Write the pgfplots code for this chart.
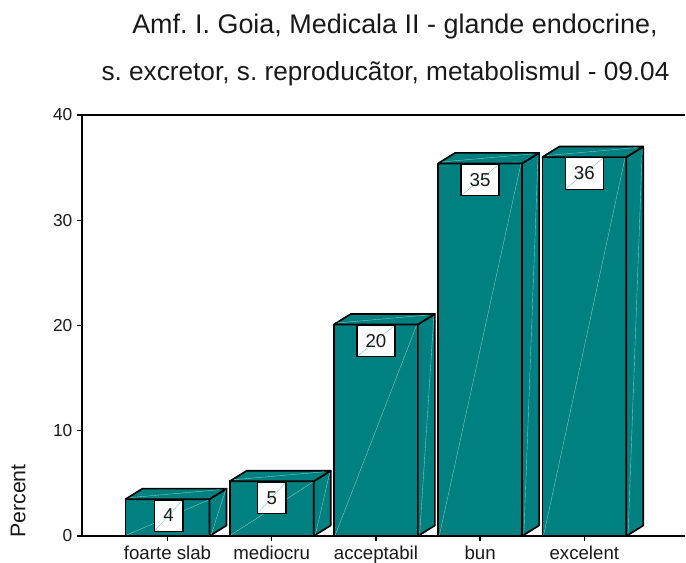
\documentclass[border=0pt]{standalone}
\usepackage{fontspec}
\setmainfont{Liberation Sans}
\usepackage{pgfplots}
\pgfplotsset{compat=1.18}
\usepackage{pgfplotstable}
\definecolor{barteal}{HTML}{008080}
\definecolor{lightl}{HTML}{7FC8C4}
\frenchspacing
\pgfplotstableread{
x v
0 3.5
1 5.2
2 20.1
3 35.4
4 36.0
}\valtable
\begin{document}
\begin{tikzpicture}
\path[use as bounding box] (0,0) rectangle (514.5pt,421.5pt);
\node[font=\fontsize{20.2pt}{23pt}\selectfont,text=black!90] at (296.25pt,401.25pt) {Amf. I. Goia, Medicala II - glande endocrine,};
\node[font=\fontsize{19.65pt}{23pt}\selectfont,text=black!90] at (289.1pt,366pt) {s. excretor, s. reproducãtor, metabolismul - 09.04};
\begin{axis}[
  at={(61.5pt,19.5pt)}, anchor=south west,
  scale only axis, width=452.25pt, height=315.75pt,
  xmin=-0.8205, xmax=4.966, ymin=0, ymax=40,
  axis x line=box, axis y line*=left,
  axis line style={line width=1.25pt,-},
  tick align=outside, major tick length=3.75pt,
  every tick/.style={black,line width=1pt},
  xtick={0,1,2,3,4},
  xticklabels={foarte slab,mediocru,acceptabil,bun,excelent},
  ytick={0,10,20,30,40},
  xtick pos=bottom, ytick pos=left,
  /pgf/number format/assume math mode=true,
  tick label style={font=\fontsize{13pt}{15pt}\selectfont,text=black!90},
  xticklabel style={font=\fontsize{14pt}{15pt}\selectfont,yshift=0pt},
  ylabel={Percent},
  every axis y label/.style={at={(axis description cs:-0.106,-0.005)},rotate=90,anchor=west,inner sep=0pt,font=\fontsize{16pt}{18pt}\selectfont,text=black!90},
  clip=false,
]
% fronts
\addplot[ybar,bar width=63pt,bar shift=0pt,fill=barteal,draw=black,line width=1.25pt] table[x=x,y=v] {\valtable};
% sides and tops
\pgfplotsset{face/.style={fill=barteal,draw=black,line width=1.25pt,line join=round},ll/.style={draw=lightl,line width=0.3pt}}
\addplot[face] coordinates {(0.403,0)(0.566,1)(0.566,4.5)(0.403,3.5)} --cycle;
\addplot[face] coordinates {(-0.403,3.5)(-0.24,4.5)(0.566,4.5)(0.403,3.5)} --cycle;
\addplot[face] coordinates {(1.403,0)(1.566,1)(1.566,6.2)(1.403,5.2)} --cycle;
\addplot[face] coordinates {(0.597,5.2)(0.76,6.2)(1.566,6.2)(1.403,5.2)} --cycle;
\addplot[face] coordinates {(2.403,0)(2.566,1)(2.566,21.1)(2.403,20.1)} --cycle;
\addplot[face] coordinates {(1.597,20.1)(1.76,21.1)(2.566,21.1)(2.403,20.1)} --cycle;
\addplot[face] coordinates {(3.403,0)(3.566,1)(3.566,36.4)(3.403,35.4)} --cycle;
\addplot[face] coordinates {(2.597,35.4)(2.76,36.4)(3.566,36.4)(3.403,35.4)} --cycle;
\addplot[face] coordinates {(4.403,0)(4.566,1)(4.566,37)(4.403,36)} --cycle;
\addplot[face] coordinates {(3.597,36)(3.76,37)(4.566,37)(4.403,36)} --cycle;
% sheen lines
\addplot[ll] coordinates {(-0.39,0.1)(0.39,3.4)};
\addplot[ll] coordinates {(0.42,0.15)(0.556,4.3)};
\addplot[ll] coordinates {(-0.36,3.65)(0.5,4.4)};
\addplot[ll] coordinates {(0.61,0.1)(1.39,5.1)};
\addplot[ll] coordinates {(1.42,0.15)(1.556,6.0)};
\addplot[ll] coordinates {(0.64,5.35)(1.5,6.1)};
\addplot[ll] coordinates {(1.61,0.1)(2.39,20.0)};
\addplot[ll] coordinates {(2.42,0.15)(2.556,20.9)};
\addplot[ll] coordinates {(1.64,20.25)(2.5,21.0)};
\addplot[ll] coordinates {(2.61,0.1)(3.39,35.3)};
\addplot[ll] coordinates {(3.42,0.15)(3.556,36.2)};
\addplot[ll] coordinates {(2.64,35.55)(3.5,36.3)};
\addplot[ll] coordinates {(3.61,0.1)(4.39,35.9)};
\addplot[ll] coordinates {(4.42,0.15)(4.556,36.8)};
\addplot[ll] coordinates {(3.64,36.15)(4.5,36.9)};
% value labels
\tikzset{vl/.style={draw=black,line width=1pt,fill=white,anchor=north,inner sep=0pt,minimum height=23.6pt,text=black!90,font=\fontsize{14pt}{16pt}\selectfont,
  path picture={\draw[lightl,line width=0.3pt] (path picture bounding box.south west)--(path picture bounding box.north east);}}}
\node[vl,minimum width=21.5pt] at (axis cs:0.01,3.5) {4};
\node[vl,minimum width=21.5pt] at (axis cs:1,5.2) {5};
\node[vl,minimum width=28.5pt] at (axis cs:2,20.1) {20};
\node[vl,minimum width=28.5pt] at (axis cs:3,35.4) {35};
\node[vl,minimum width=28.5pt] at (axis cs:4,36) {36};
\end{axis}
\end{tikzpicture}
\end{document}
